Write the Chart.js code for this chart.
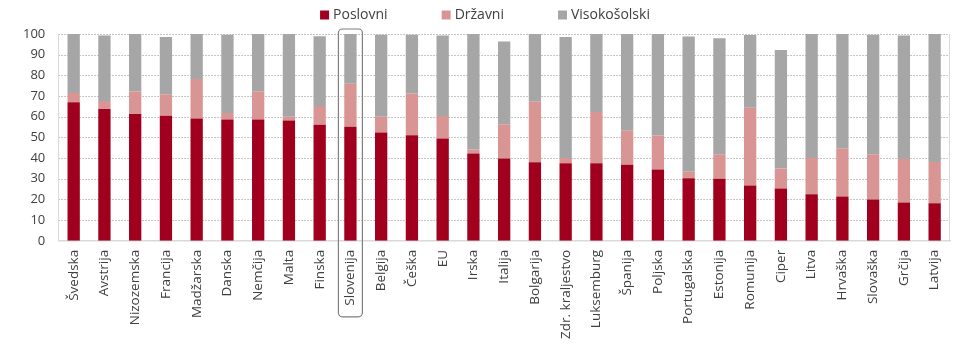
<!DOCTYPE html>
<html>
<head>
<meta charset="utf-8">
<script src="https://cdn.jsdelivr.net/npm/chart.js@4"></script>
<style>
  html, body { margin: 0; padding: 0; background: #fff; }
  #wrap { width: 960px; height: 349px; position: relative; }
</style>
</head>
<body>
<div id="wrap"><canvas id="c" width="960" height="349"></canvas></div>
<script>
const categories = ["Švedska","Avstrija","Nizozemska","Francija","Madžarska","Danska","Nemčija","Malta","Finska","Slovenija","Belgija","Češka","EU","Irska","Italija","Bolgarija","Zdr. kraljestvo","Luksemburg","Španija","Poljska","Portugalska","Estonija","Romunija","Ciper","Litva","Hrvaška","Slovaška","Grčija","Latvija"];
const poslovni = [67.0,63.7,61.3,60.5,59.2,58.7,58.7,58.2,56.1,55.1,52.4,51.1,49.5,42.2,39.8,38.0,37.5,37.5,36.8,34.5,30.3,30.0,26.8,25.3,22.5,21.4,20.0,18.5,18.2];
const drzavni = [4.5,3.9,10.9,10.4,19.1,3.1,13.6,1.8,9.1,20.8,7.6,20.1,10.8,1.9,16.6,29.3,2.6,24.8,16.4,16.4,3.1,11.8,37.6,9.7,17.5,23.4,21.8,21.1,19.9];
const visokosolski = [28.5,31.7,27.8,27.6,21.7,37.8,27.7,40.0,33.7,24.1,39.6,28.4,39.0,55.9,40.0,32.7,58.4,37.7,46.8,49.1,65.4,56.2,35.1,57.3,60.0,55.2,57.8,59.7,61.9];
const seriesNames = ["Poslovni","Državni","Visokošolski"];
const seriesColors = ["#A0001E","#D99594","#A6A6A6"];
const yTicks = [0,10,20,30,40,50,60,70,80,90,100];
const highlighted = "Slovenija";

const FONT = "'Open Sans', 'Noto Sans', sans-serif";
const TEXT = "#404040";

const legendPlugin = {
  id: 'customLegend',
  afterDraw(chart) {
    const ctx = chart.ctx;
    ctx.save();
    ctx.font = "14px " + FONT;
    ctx.textBaseline = 'middle';
    const box = 9, gapText = 4, gapItem = 54;
    const widths = chart.data.datasets.map(d => box + gapText + ctx.measureText(d.label).width);
    const total = widths.reduce((a, b) => a + b, 0) + gapItem * (widths.length - 1);
    let x = chart.width / 2 + 5 - total / 2;
    const y = 15;
    chart.data.datasets.forEach((d, i) => {
      ctx.fillStyle = d.backgroundColor;
      ctx.fillRect(x, y - box / 2, box, box);
      ctx.fillStyle = TEXT;
      ctx.textAlign = 'left';
      ctx.fillText(d.label, x + box + gapText, y);
      x += widths[i] + gapItem;
    });
    ctx.restore();
  }
};

const framePlugin = {
  id: 'frame',
  beforeDatasetsDraw(chart) {
    const a = chart.chartArea, ctx = chart.ctx, ys = chart.scales.y;
    ctx.save();
    ctx.strokeStyle = '#b4b4b4';
    ctx.lineWidth = 1;
    ctx.setLineDash([1.5, 1.5]);
    yTicks.forEach(v => {
      if (v === 0) return;
      const y = Math.round(ys.getPixelForValue(v)) + 0.5;
      ctx.beginPath();
      ctx.moveTo(a.left, y);
      ctx.lineTo(a.right, y);
      ctx.stroke();
    });
    ctx.setLineDash([]);
    ctx.strokeStyle = '#d9d9d9';
    ctx.beginPath();
    ctx.moveTo(Math.round(a.left) + 0.5, a.top);
    ctx.lineTo(Math.round(a.left) + 0.5, a.bottom);
    ctx.moveTo(Math.round(a.right) - 0.5, a.top);
    ctx.lineTo(Math.round(a.right) - 0.5, a.bottom);
    ctx.stroke();
    ctx.restore();
  },
  afterDraw(chart) {
    const xs = chart.scales.x, a = chart.chartArea, ctx = chart.ctx;
    const idx = chart.data.labels.indexOf(highlighted);
    if (idx < 0) return;
    const cx = xs.getPixelForValue(idx);
    const half = xs.width / chart.data.labels.length * 0.39;
    const l = cx - half, r = cx + half, t = a.top - 5, b = a.bottom + 76;
    ctx.save();
    ctx.strokeStyle = '#7f7f7f';
    ctx.lineWidth = 1.2;
    ctx.beginPath();
    ctx.roundRect(l, t, r - l, b - t, 4);
    ctx.stroke();
    ctx.restore();
  }
};

const values = [poslovni, drzavni, visokosolski];
new Chart(document.getElementById('c'), {
  type: 'bar',
  data: {
    labels: categories,
    datasets: values.map((v, i) => ({
      label: seriesNames[i],
      data: v,
      backgroundColor: seriesColors[i],
      borderWidth: 0,
      barPercentage: 0.4,
      categoryPercentage: 1.0
    }))
  },
  options: {
    responsive: false,
    animation: false,
    layout: { padding: { top: 34, left: 10, right: 9, bottom: 1 } },
    plugins: {
      legend: { display: false },
      tooltip: { enabled: false }
    },
    scales: {
      x: {
        stacked: true,
        grid: { display: false, drawTicks: false },
        border: { display: true, color: '#d9d9d9', width: 1.5 },
        ticks: {
          autoSkip: false,
          minRotation: 90, maxRotation: 90,
          padding: 9,
          color: TEXT,
          font: { family: FONT, size: 13.5 }
        }
      },
      y: {
        stacked: true,
        min: 0, max: 100,
        afterBuildTicks(scale) { scale.ticks = yTicks.map(v => ({ value: v })); },
        grid: { display: false, drawTicks: false },
        border: { display: false },
        ticks: {
          padding: 13,
          color: TEXT,
          font: { family: FONT, size: 13 }
        }
      }
    }
  },
  plugins: [framePlugin, legendPlugin]
});
</script>
</body>
</html>
